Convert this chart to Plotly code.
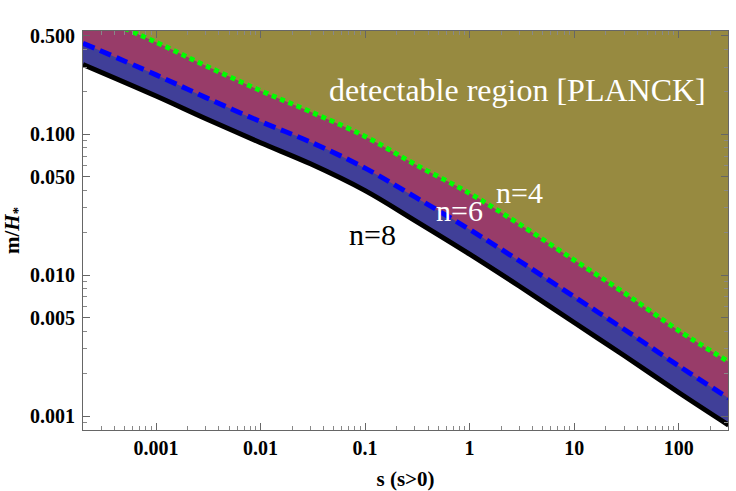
import plotly.graph_objects as go

s_vals = [2e-4, 1e-3, 3e-3, 1e-2, 3e-2, 0.1, 0.3, 1, 3, 10, 30, 100, 300]
m_n8 = [0.313, 0.187, 0.129, 0.0871, 0.0617, 0.0398, 0.0244, 0.0141, 0.00834, 0.00461, 0.00269, 0.00147, 0.000863]
m_n6 = [0.443, 0.264, 0.182, 0.123, 0.0881, 0.0575, 0.0359, 0.0211, 0.0126, 0.00703, 0.00413, 0.00227, 0.00134]
m_n4 = [0.757, 0.45, 0.306, 0.204, 0.1445, 0.0966, 0.0612, 0.0381, 0.023, 0.0128, 0.0075, 0.00404, 0.00243]

x_ticks = [0.001, 0.01, 0.1, 1, 10, 100]
x_ticktext = ["0.001", "0.01", "0.1", "1", "10", "100"]
y_ticks = [0.001, 0.005, 0.01, 0.05, 0.1, 0.5]
y_ticktext = ["0.001", "0.005", "0.010", "0.050", "0.100", "0.500"]

OLIVE = "#978a40"
MAGENTA = "#983c69"
BAND_BLUE = "#403f98"
SERIF = "Liberation Serif"

minor_vals = [k * 10 ** e for e in range(-4, 3) for k in range(2, 10)]

fig = go.Figure()

# filled bands, each to the bottom of the frame, stacked in order
for ys, col in [(m_n4, MAGENTA), (m_n6, BAND_BLUE), (m_n8, "white")]:
    fig.add_trace(go.Scatter(
        x=s_vals, y=ys, mode="lines", line=dict(width=0, shape="spline"),
        fill="tozeroy", fillcolor=col, hoverinfo="skip", showlegend=False,
    ))

# boundary curves on top
fig.add_trace(go.Scatter(x=s_vals, y=m_n4, mode="lines", showlegend=False,
                         line=dict(color="#00ff00", width=5, dash="5px,4px", shape="spline")))
fig.add_trace(go.Scatter(x=s_vals, y=m_n6, mode="lines", showlegend=False,
                         line=dict(color="#0000ff", width=5, dash="12px,6px", shape="spline")))
fig.add_trace(go.Scatter(x=s_vals, y=m_n8, mode="lines", showlegend=False,
                         line=dict(color="black", width=5, shape="spline")))

axis_common = dict(
    type="log", showgrid=False, zeroline=False, automargin=False,
    showline=True, linecolor="#666666", linewidth=1, mirror="allticks",
    ticks="inside", ticklen=7, tickcolor="#666666", tickwidth=1,
    tickfont=dict(family=SERIF, size=20, color="black", weight="bold"),
    minor=dict(ticks="inside", ticklen=4, tickcolor="#888888", tickvals=minor_vals, showgrid=False),
)

fig.update_xaxes(
    **axis_common, range=[-3.699, 2.472],
    tickvals=x_ticks, ticktext=x_ticktext, ticklabelstandoff=0,
    title=dict(text="<b>s (s&gt;0)</b>", font=dict(family=SERIF, size=21, color="black"), standoff=14),
)
fig.update_yaxes(
    **axis_common, range=[-3.099, -0.267],
    tickvals=y_ticks, ticktext=y_ticktext, ticklabelstandoff=3,
    title=dict(text="<b>m/<i>H</i><sub>*</sub></b>", font=dict(family=SERIF, size=21, color="black"), standoff=13),
)

labels = [
    ("detectable region [PLANCK]", 0.674, 0.852, "white", 32),
    ("n=4", 0.676, 0.594, "white", 30),
    ("n=6", 0.583, 0.551, "white", 30),
    ("n=8", 0.4496, 0.489, "black", 30),
]
for text, ax, ay, col, size in labels:
    fig.add_annotation(text=text, x=ax, y=ay, xref="paper", yref="paper",
                       xanchor="center", yanchor="middle", showarrow=False,
                       font=dict(family=SERIF, size=size, color=col))

fig.update_layout(
    width=736, height=491,
    margin=dict(l=83, r=8, t=31, b=61),
    plot_bgcolor=OLIVE, paper_bgcolor="white",
    showlegend=False,
)

# drop the page's default body margin so the figure fills the window exactly
fig.write_html("out.html", config={"displayModeBar": False},
               post_script="document.body.style.margin = '0';")
